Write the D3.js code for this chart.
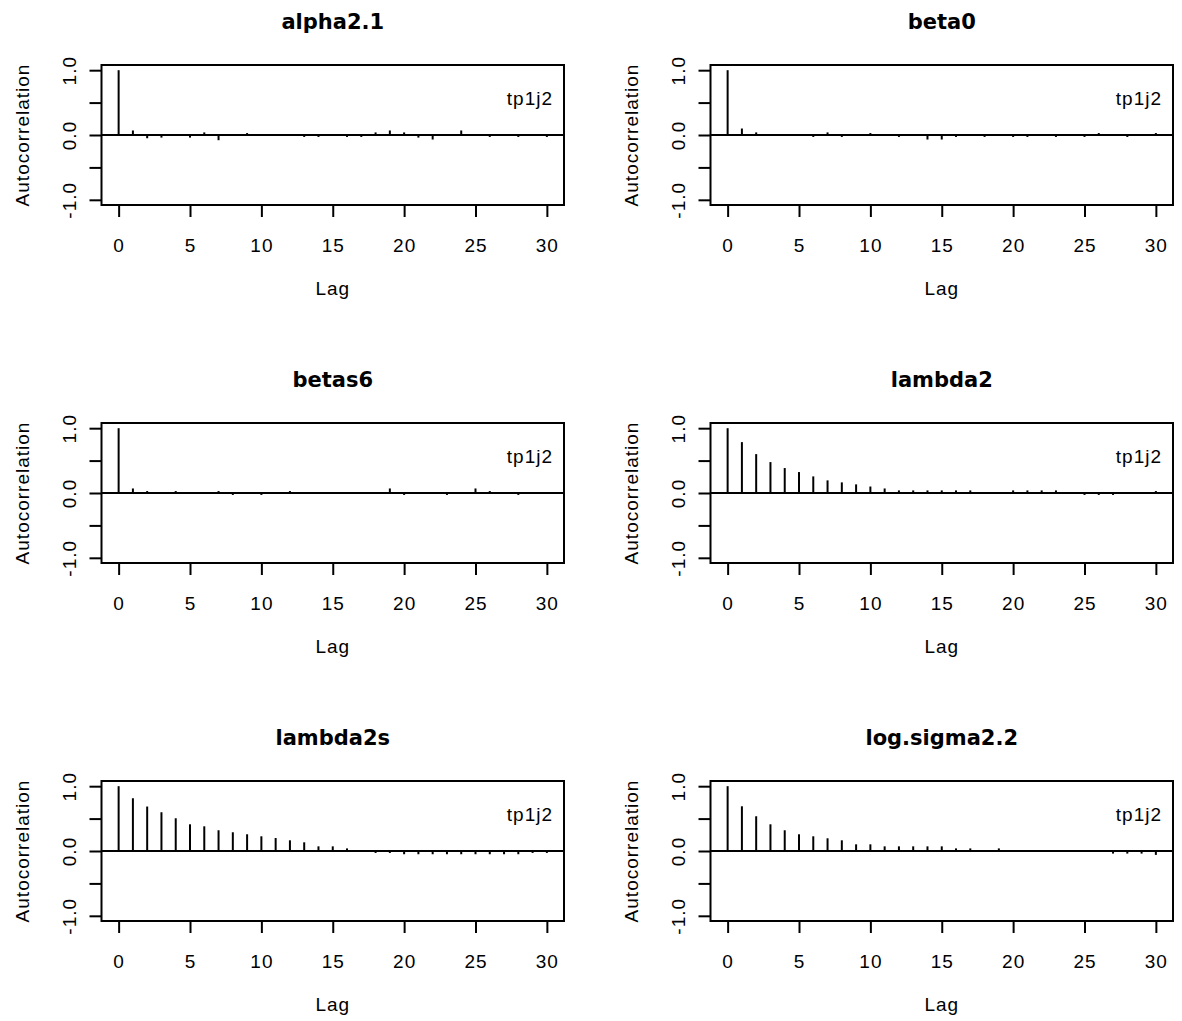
<!DOCTYPE html>
<html>
<head>
<meta charset="utf-8">
<script src="https://cdn.jsdelivr.net/npm/d3@7"></script>
<style>
  html, body { margin: 0; padding: 0; background: #fff; }
  svg { display: block; }
  text { font-family: "Liberation Sans", Arial, sans-serif; fill: #000; }
</style>
</head>
<body>
<svg id="chart" width="1182" height="1021"></svg>
<script>
// Autocorrelation by lag for each monitored parameter (chain tp1j2)
const lags = [0, 1, 2, 3, 4, 5, 6, 7, 8, 9, 10, 11, 12, 13, 14, 15, 16, 17, 18, 19, 20, 21, 22, 23, 24, 25, 26, 27, 28, 29, 30];

const panelTitles = ["alpha2.1", "beta0", "betas6", "lambda2", "lambda2s", "log.sigma2.2"];
const chainLabel = "tp1j2";

const acfAlpha21 = [1.00, 0.07, -0.05, -0.04, 0.00, -0.04, 0.04, -0.08, 0.01, 0.03, 0.01, -0.01, 0.00, -0.03, -0.03, 0.00, -0.03, -0.03, 0.04, 0.07, 0.04, -0.04, -0.07, 0.00, 0.07, 0.00, -0.03, 0.00, -0.03, 0.00, -0.03];
const acfBeta0 = [1.00, 0.10, 0.04, 0.00, 0.00, 0.00, -0.03, 0.04, -0.03, 0.00, 0.03, 0.00, -0.03, 0.00, -0.07, -0.07, -0.03, 0.00, -0.03, 0.00, -0.03, -0.03, 0.00, -0.03, 0.00, -0.03, 0.03, 0.00, -0.03, 0.00, 0.03];
const acfBetas6 = [1.00, 0.07, 0.03, 0.00, 0.03, 0.00, 0.00, 0.03, -0.03, 0.00, -0.03, 0.00, 0.03, 0.00, 0.00, 0.00, 0.00, 0.00, 0.00, 0.07, -0.03, 0.00, 0.00, -0.03, 0.00, 0.07, 0.03, 0.00, -0.03, 0.00, 0.00];
const acfLambda2 = [1.00, 0.785, 0.60, 0.477, 0.385, 0.323, 0.256, 0.195, 0.164, 0.133, 0.10, 0.07, 0.04, 0.04, 0.04, 0.04, 0.04, 0.04, 0.00, 0.00, 0.04, 0.04, 0.04, 0.04, 0.00, -0.03, -0.03, -0.03, 0.00, 0.00, 0.03];
const acfLambda2s = [1.00, 0.814, 0.686, 0.598, 0.505, 0.412, 0.381, 0.32, 0.289, 0.258, 0.227, 0.20, 0.165, 0.134, 0.072, 0.072, 0.04, 0.00, -0.03, -0.03, -0.05, -0.05, -0.05, -0.05, -0.05, -0.05, -0.05, -0.05, -0.05, -0.03, -0.03];
const acfLogSigma22 = [1.00, 0.69, 0.536, 0.412, 0.32, 0.258, 0.227, 0.196, 0.165, 0.103, 0.103, 0.072, 0.072, 0.072, 0.072, 0.072, 0.04, 0.04, 0.00, 0.04, 0.00, 0.00, 0.00, 0.00, 0.00, 0.00, 0.00, -0.04, -0.04, -0.04, -0.06];

const xTicks = [0, 5, 10, 15, 20, 25, 30];
const yTicks = [-1, -0.5, 0, 0.5, 1];
const yTickLabels = ["-1.0", "", "0.0", "", "1.0"];
const xLabel = "Lag";
const yLabel = "Autocorrelation";

const series = [acfAlpha21, acfBeta0, acfBetas6, acfLambda2, acfLambda2s, acfLogSigma22];

// Grid layout of the six panels
const colLeft = [101.5, 710.5];
const rowTop = [65, 423, 781];
const boxW = 462.5;
const boxH = 140;

const svg = d3.select("#chart");

// Axis ranges extended by 4% on each side
const xDomain = [-1.2, 31.2];
const yDomain = [-1.08, 1.08];

series.forEach((vals, i) => {
  const col = i % 2, row = Math.floor(i / 2);
  const left = colLeft[col], top = rowTop[row];
  const g = svg.append("g").attr("transform", `translate(${left},${top})`);

  const x = d3.scaleLinear().domain(xDomain).range([0, boxW]);
  const y = d3.scaleLinear().domain(yDomain).range([boxH, 0]);

  // Title
  g.append("text")
    .attr("x", boxW / 2).attr("y", -36)
    .attr("text-anchor", "middle")
    .style("font-family", "'DejaVu Sans', sans-serif")
    .style("font-weight", "bold")
    .style("font-size", "21px")
    .text(panelTitles[i]);

  // Zero reference line
  g.append("line")
    .attr("x1", 0).attr("x2", boxW)
    .attr("y1", y(0)).attr("y2", y(0))
    .attr("stroke", "#000").attr("stroke-width", 2);

  // Autocorrelation spikes
  g.selectAll("line.spike")
    .data(lags)
    .join("line")
    .attr("class", "spike")
    .attr("x1", d => x(d)).attr("x2", d => x(d))
    .attr("y1", y(0)).attr("y2", d => y(vals[d]))
    .attr("stroke", "#000").attr("stroke-width", 2);

  // Chain label
  g.append("text")
    .attr("x", boxW - 11).attr("y", 40)
    .attr("text-anchor", "end")
    .style("font-size", "19px")
    .style("letter-spacing", "1px")
    .text(chainLabel);

  // Bottom axis
  const xAxis = g.append("g")
    .attr("transform", `translate(0,${boxH})`)
    .call(d3.axisBottom(x).tickValues(xTicks).tickSize(12).tickFormat(d3.format("d")));
  xAxis.select(".domain").remove();
  xAxis.selectAll(".tick line").attr("stroke", "#000").attr("stroke-width", 2);
  xAxis.selectAll(".tick text")
    .attr("y", 47).attr("dy", null)
    .attr("fill", "#000")
    .style("font-size", "19px")
    .style("letter-spacing", "1px")
    .style("font-family", "'Liberation Sans', Arial, sans-serif");

  // Left axis, labels parallel to the axis
  const yAxis = g.append("g")
    .call(d3.axisLeft(y).tickValues(yTicks).tickSize(12)
      .tickFormat((d, k) => yTickLabels[k]));
  yAxis.select(".domain").remove();
  yAxis.selectAll(".tick line").attr("stroke", "#000").attr("stroke-width", 2);
  yAxis.selectAll(".tick text")
    .attr("transform", "rotate(-90)")
    .attr("x", 0).attr("y", -32).attr("dy", "0.35em")
    .attr("text-anchor", "middle")
    .attr("fill", "#000")
    .style("font-size", "19px")
    .style("letter-spacing", "1px")
    .style("font-family", "'Liberation Sans', Arial, sans-serif");

  // Axis titles
  g.append("text")
    .attr("x", boxW / 2).attr("y", boxH + 90)
    .attr("text-anchor", "middle")
    .style("font-size", "19px")
    .style("letter-spacing", "1px")
    .text(xLabel);

  g.append("text")
    .attr("transform", `translate(${-79},${boxH / 2}) rotate(-90)`)
    .attr("text-anchor", "middle")
    .attr("dy", "0.35em")
    .style("font-size", "19px")
    .style("letter-spacing", "1px")
    .text(yLabel);

  // Plot frame
  g.append("rect")
    .attr("x", 0).attr("y", 0)
    .attr("width", boxW).attr("height", boxH)
    .attr("fill", "none")
    .attr("stroke", "#000").attr("stroke-width", 2);
});
</script>
</body>
</html>
